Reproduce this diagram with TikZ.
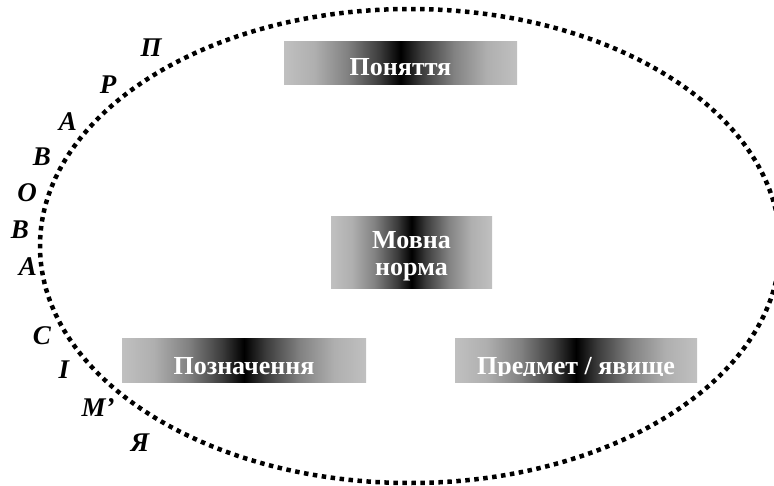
\documentclass[tikz,border=0pt]{standalone}
\usepackage{fontspec}
\setmainfont{Liberation Serif}
\definecolor{boxgray}{RGB}{192,192,192}
\definecolor{gA}{RGB}{175,175,175}
\definecolor{gB}{RGB}{130,130,130}
\definecolor{gC}{RGB}{60,60,60}
\pgfdeclarehorizontalshading{boxshade}{100bp}{color(0bp)=(boxgray); color(25bp)=(boxgray); color(31.5bp)=(gA); color(38.5bp)=(gB); color(45.5bp)=(gC); color(50bp)=(black); color(54.5bp)=(gC); color(61.5bp)=(gB); color(68.5bp)=(gA); color(75bp)=(boxgray); color(100bp)=(boxgray)}
\begin{document}
\begin{tikzpicture}[x=1pt,y=-1pt,
  dotline/.style={line width=4.5pt, dash pattern=on 4.5pt off 4.5pt},
  gradbox/.style={shade, shading=boxshade, inner sep=0pt, draw=none},
  boxtext/.style={text=white, font=\fontsize{26}{27}\selectfont\bfseries, inner sep=0pt},
  letter/.style={font=\fontsize{27}{27}\selectfont\bfseries\itshape, inner sep=0pt}]
\useasboundingbox (0,0) rectangle (774,485);
\fill[white] (0,0) rectangle (774,485);
% ellipse
\draw[dotline] (410,246) ellipse [x radius=370pt, y radius=237pt];
% boxes
\node[gradbox, minimum width=233pt, minimum height=43pt] (bp) at (400.5,62.5) {};
\node[gradbox, minimum width=161pt, minimum height=72pt] (bm) at (411.5,252) {};
\node[gradbox, minimum width=244pt, minimum height=44pt] (bz) at (244,360) {};
\node[gradbox, minimum width=242pt, minimum height=44pt] (bj) at (576,360) {};
% texts
\node[boxtext, anchor=base] (tp) at (400.5,75) {Поняття};
\node[boxtext, align=center] (tm) at (411.5,256) {Мовна\\норма};
\node[boxtext, anchor=base] (tz) at (244,374) {Позначення};
\begin{scope}
\clip (455,338) rectangle (697,375);
\node[boxtext, anchor=base] (tj) at (576,374) {Предмет / явище};
\end{scope}
% side letters
\node[letter] (l1) at (151,48) {П};
\node[letter] (l2) at (108,85) {Р};
\node[letter] (l3) at (68,122) {А};
\node[letter] (l4) at (42,157) {В};
\node[letter] (l5) at (27,193) {О};
\node[letter] (l6) at (20,230) {В};
\node[letter] (l7) at (28,267) {А};
\node[letter] (l8) at (42,336) {С};
\node[letter] (l9) at (64,370) {І};
\node[letter] (l10) at (98,408) {М’};
\node[letter] (l11) at (140,443) {Я};
\end{tikzpicture}
\end{document}
